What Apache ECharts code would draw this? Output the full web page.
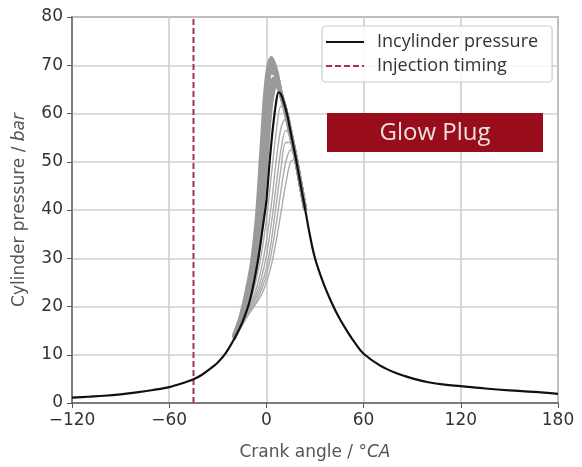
<!DOCTYPE html>
<html>
<head>
<meta charset="utf-8">
<script src="https://cdn.jsdelivr.net/npm/echarts@6/dist/echarts.min.js"></script>
<style>
  html, body { margin: 0; padding: 0; background: #fff; }
  #chart { width: 582px; height: 467px; }
</style>
</head>
<body>
<div id="chart"></div>
<script>
// mean in-cylinder pressure
var angle = [-120, -110, -100, -90, -80, -70, -60, -50, -45, -40, -35, -30, -25, -20, -15, -10, -5, -2, 0, 2, 4, 6, 7.5, 9, 11, 13, 15, 18, 21, 24, 27, 30, 35, 40, 45, 50, 55, 60, 70, 80, 90, 100, 110, 120, 135, 150, 165, 180];
var pressure = [1.1, 1.3, 1.5, 1.8, 2.2, 2.7, 3.3, 4.3, 4.9, 5.8, 7.0, 8.4, 10.4, 13.2, 16.6, 21.5, 30, 37, 42, 50, 57, 62.3, 64.4, 64, 62, 59.5, 56, 51, 45.5, 40, 34.5, 30, 25, 21, 17.6, 14.8, 12.3, 10.2, 7.8, 6.2, 5.1, 4.3, 3.8, 3.5, 3.0, 2.6, 2.3, 1.9];

var injectionAngle = -45;

// single cycles (grey band), same angles for each
var cycleAngle = [-20, -16, -12, -9, -6, -3, 0, 3, 6, 9, 12, 15, 18, 21, 24];
var cycle1 = [14, 17.8, 23.5, 29, 38, 53, 67, 71.5, 69, 64, 60, 55.5, 51, 45.5, 40];
var cycle2 = [13.9, 17.5, 22.8, 28, 36, 50, 64.5, 70.5, 68.5, 64, 60, 55.5, 51, 45.5, 40];
var cycle3 = [13.8, 17.3, 22.2, 27, 34.5, 47.5, 62, 69.5, 68, 64, 60.5, 55.5, 51, 45.5, 40];
var cycle4 = [13.6, 17, 21.6, 26, 33, 45, 59.5, 68.5, 68, 64, 60.5, 55.8, 51, 45.5, 40];
var cycle5 = [13.5, 16.8, 21.2, 25.2, 31.5, 42.5, 56.5, 66.5, 67.5, 64, 60.5, 55.8, 51, 45.5, 40];
var cycle6 = [13.4, 16.6, 20.8, 24.5, 30, 40, 53, 64, 67, 64, 60.5, 56, 51, 45.5, 40];
var cycle7 = [13.3, 16.4, 20.5, 24, 29, 38, 50, 62, 66, 64, 60.5, 56, 51, 45.5, 40];
var cycle8 = [13.2, 16, 19.3, 22, 26, 31, 38, 47, 56, 61.5, 60.5, 55.5, 51, 45.5, 40];
var cycle9 = [13.2, 15.8, 18.8, 21, 24, 28, 33.5, 41, 50, 57, 59, 55.5, 51, 45.5, 40];
var cycle10 = [13.2, 15.7, 18.5, 20.5, 22.8, 26, 30.5, 37, 45, 52.5, 56.5, 55, 50.5, 45.5, 40];
var cycle11 = [13.2, 15.6, 18.2, 20, 22, 24.5, 28, 33.5, 41, 48.5, 54, 54, 50.5, 45.5, 40];
var cycle12 = [13.2, 15.5, 18, 19.6, 21.2, 23.5, 26.5, 31, 37, 44, 50, 52.5, 50, 45.5, 40];
var cycle13 = [13.2, 15.4, 17.8, 19.3, 20.8, 22.5, 25, 28.5, 33.5, 39.5, 45.5, 50, 50.5, 45.5, 40];

var cycles = [cycle1, cycle2, cycle3, cycle4, cycle5, cycle6, cycle7, cycle8, cycle9, cycle10, cycle11, cycle12, cycle13];

function pairs(xs, ys) {
    var out = [];
    for (var i = 0; i < xs.length; i++) {
        out.push([xs[i], ys[i]]);
    }
    return out;
}

var series = [];
cycles.forEach(function (c, i) {
    var early = i < 7;
    series.push({
        name: 'cycle' + (i + 1),
        type: 'line',
        data: pairs(cycleAngle, c),
        showSymbol: false,
        symbol: 'none',
        silent: true,
        smooth: 0.35,
        z: 2,
        lineStyle: {
            color: early ? '#9a9a9a' : '#ababab',
            width: early ? 4 : 1.4
        }
    });
});

series.push({
    name: 'Incylinder pressure',
    type: 'line',
    data: pairs(angle, pressure),
    showSymbol: false,
    symbol: 'none',
    smooth: 0.35,
    z: 5,
    itemStyle: { color: '#111' },
    lineStyle: { color: '#111', width: 2.2 }
});

series.push({
    name: 'Injection timing',
    type: 'line',
    data: [[injectionAngle, 0], [injectionAngle, 80]],
    showSymbol: false,
    symbol: 'none',
    z: 4,
    itemStyle: { color: '#a8324f' },
    lineStyle: { color: '#a8324f', width: 2, type: [6, 3] }
});

var chart = echarts.init(document.getElementById('chart'));
chart.setOption({
    animation: false,
    textStyle: { fontFamily: 'DejaVu Sans' },
    grid: {
        left: 72, right: 24, top: 17, bottom: 64,
        show: true,
        borderColor: '#666',
        borderWidth: 1.5
    },
    legend: {
        data: ['Incylinder pressure', 'Injection timing'],
        orient: 'vertical',
        left: 322,
        top: 26,
        itemWidth: 38,
        itemHeight: 14,
        itemGap: 2,
        padding: [5, 14, 5, 3],
        borderColor: '#ccc',
        borderWidth: 1.2,
        borderRadius: 4,
        backgroundColor: 'rgba(255,255,255,0.85)',
        itemStyle: { opacity: 0 },
        textStyle: { fontFamily: 'Open Sans', fontSize: 18, color: '#333', padding: [0, 0, 0, 8], lineHeight: 22 }
    },
    xAxis: {
        type: 'value',
        min: -120,
        max: 180,
        interval: 60,
        name: '{n|Crank angle / °}{i|CA}',
        nameLocation: 'middle',
        nameGap: 41,
        nameTextStyle: {
            rich: {
                n: { fontFamily: 'DejaVu Sans', fontSize: 17, color: '#555' },
                i: { fontFamily: 'DejaVu Sans', fontSize: 17, color: '#555', fontStyle: 'italic' }
            }
        },
        axisLine: { show: true, onZero: false, lineStyle: { color: '#666', width: 1.5 } },
        axisTick: { show: true, length: 5, lineStyle: { color: '#555' } },
        axisLabel: {
            fontSize: 17, color: '#333', margin: 9,
            formatter: function (v) { return v < 0 ? '\u2212' + Math.abs(v) : '' + v; }
        },
        splitLine: { show: true, lineStyle: { color: '#cfcfcf', width: 1.6 } }
    },
    yAxis: {
        type: 'value',
        min: 0,
        max: 80,
        interval: 10,
        name: '{n|Cylinder pressure / }{i|bar}',
        nameLocation: 'middle',
        nameGap: 44,
        nameTextStyle: {
            rich: {
                n: { fontFamily: 'DejaVu Sans', fontSize: 17, color: '#555' },
                i: { fontFamily: 'DejaVu Sans', fontSize: 17, color: '#555', fontStyle: 'italic' }
            }
        },
        axisLine: { show: true, onZero: false, lineStyle: { color: '#666', width: 1.5 } },
        axisTick: { show: true, length: 5, lineStyle: { color: '#555' } },
        axisLabel: { fontSize: 17, color: '#333', margin: 9 },
        splitLine: { show: true, lineStyle: { color: '#cfcfcf', width: 1.6 } }
    },
    graphic: [
        {
            type: 'rect',
            left: 327,
            top: 113,
            shape: { width: 216, height: 39 },
            style: { fill: '#980c1c' },
            z: 10
        },
        {
            type: 'text',
            x: 435,
            y: 133,
            style: {
                text: 'Glow Plug',
                fill: '#ece4dc',
                font: '24px "Open Sans"',
                align: 'center',
                verticalAlign: 'middle'
            },
            z: 11
        }
    ],
    series: series
});
</script>
</body>
</html>
